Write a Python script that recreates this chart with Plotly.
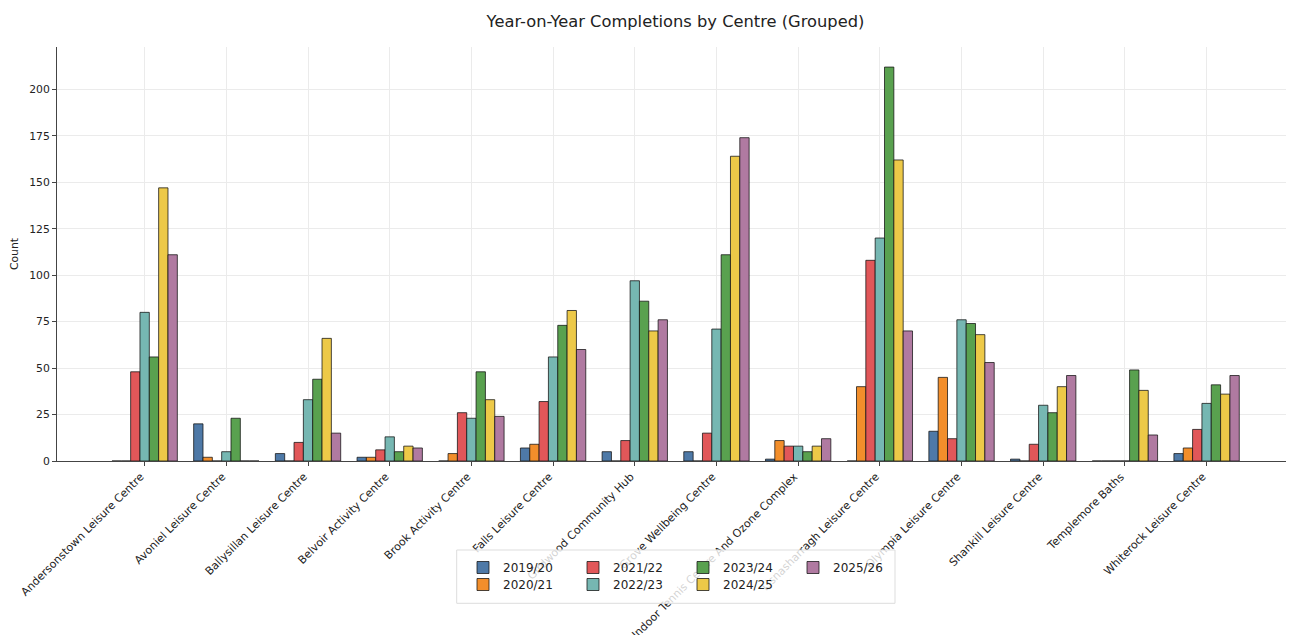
import plotly.graph_objects as go

centres = [
    "Andersonstown Leisure Centre", "Avoniel Leisure Centre", "Ballysillan Leisure Centre",
    "Belvoir Activity Centre", "Brook Activity Centre", "Falls Leisure Centre",
    "Girdwood Community Hub", "Grove Wellbeing Centre", "Indoor Tennis Centre And Ozone Complex",
    "Lisnasharragh Leisure Centre", "Olympia Leisure Centre", "Shankill Leisure Centre",
    "Templemore Baths", "Whiterock Leisure Centre",
]
years = ["2019/20", "2020/21", "2021/22", "2022/23", "2023/24", "2024/25", "2025/26"]

v_2019_20 = [0, 20, 4, 2, 0, 7, 5, 5, 1, 0, 16, 1, 0, 4]
v_2020_21 = [0, 2, 0, 2, 4, 9, 0, 0, 11, 40, 45, 0, 0, 7]
v_2021_22 = [48, 0, 10, 6, 26, 32, 11, 15, 8, 108, 12, 9, 0, 17]
v_2022_23 = [80, 5, 33, 13, 23, 56, 97, 71, 8, 120, 76, 30, 0, 31]
v_2023_24 = [56, 23, 44, 5, 48, 73, 86, 111, 5, 212, 74, 26, 49, 41]
v_2024_25 = [147, 0, 66, 8, 33, 81, 70, 164, 8, 162, 68, 40, 38, 36]
v_2025_26 = [111, 0, 15, 7, 24, 60, 76, 174, 12, 70, 53, 46, 14, 46]
series = [v_2019_20, v_2020_21, v_2021_22, v_2022_23, v_2023_24, v_2024_25, v_2025_26]

colors = ["#4e79a7", "#f28e2b", "#e15759", "#76b7b2", "#59a14f", "#edc948", "#b07aa1"]

# page body has an 8px margin; work in screen pixels and convert
OFF = 8
SW, SH = 1294, 635
W, H = SW - OFF, SH - OFF
# plot area in screen pixels
PX0, PX1, PY0, PY1 = 57, 1294, 47, 461
L, R, T, B = PX0 - OFF, SW - PX1, PY0 - OFF, SH - PY1
PW, PH = PX1 - PX0, PY1 - PY0

def px_x(p):
    return (p - PX0) / PW

def px_y(p):
    return (PY1 - p) / PH

fig = go.Figure()
for i, (yr, vals) in enumerate(zip(years, series)):
    fig.add_trace(go.Bar(
        name=yr, x=list(range(len(centres))), y=vals,
        marker=dict(color=colors[i], line=dict(color="rgba(20,20,20,0.85)", width=0.9)),
        legend="legend" if i % 2 == 0 else "legend2",
    ))

grid = "#ebebeb"
axcol = "#444444"
font = "DejaVu Sans"

# legend frame (matplotlib-like box, semi-transparent white)
fig.add_shape(type="rect", xref="paper", yref="paper",
              x0=px_x(456.7), x1=px_x(895), y0=px_y(550), y1=px_y(603.3),
              fillcolor="rgba(255,255,255,0.8)", line=dict(color="#dddddd", width=1),
              layer="above")

leg_common = dict(orientation="h", xanchor="left", yanchor="top",
                  bgcolor="rgba(0,0,0,0)", borderwidth=0,
                  font=dict(family=font, size=12, color="#222222"),
                  entrywidth=65, traceorder="normal")

fig.update_layout(
    width=W, height=H,
    margin=dict(l=L, r=R, t=T, b=B, autoexpand=False),
    paper_bgcolor="white", plot_bgcolor="white",
    barmode="group", bargap=0.2, bargroupgap=0,
    font=dict(family=font, size=11, color="#222222"),
    title=dict(text="Year-on-Year Completions by Centre (Grouped)",
               x=0.5, xref="paper", xanchor="center",
               y=1 - (21 - OFF) / H, yref="container", yanchor="middle",
               font=dict(family=font, size=16.3, color="#222222")),
    xaxis=dict(
        tickmode="array", tickvals=list(range(len(centres))), ticktext=centres,
        tickangle=-45, range=[-1.073, 14.07], ticklabelshift=-4,
        showgrid=True, gridcolor=grid, gridwidth=0.8,
        showline=True, linecolor=axcol, linewidth=1,
        ticks="outside", ticklen=4, tickcolor=axcol, tickwidth=1,
        tickfont=dict(family=font, size=11, color="#222222"),
        zeroline=False, fixedrange=True,
    ),
    yaxis=dict(
        range=[0, 222.8], tickmode="linear", tick0=0, dtick=25,
        showgrid=True, gridcolor=grid, gridwidth=0.8,
        showline=True, linecolor=axcol, linewidth=1,
        ticks="outside", ticklen=4, tickcolor=axcol, tickwidth=1,
        tickfont=dict(family=font, size=10.8, color="#222222"),
        zeroline=False,
        title=dict(text="Count", standoff=9, font=dict(family=font, size=10.8, color="#222222")),
    ),
    legend=dict(x=px_x(463), y=px_y(553), **leg_common),
    legend2=dict(x=px_x(463), y=px_y(570), **leg_common),
)

fig.write_html("out.html")
